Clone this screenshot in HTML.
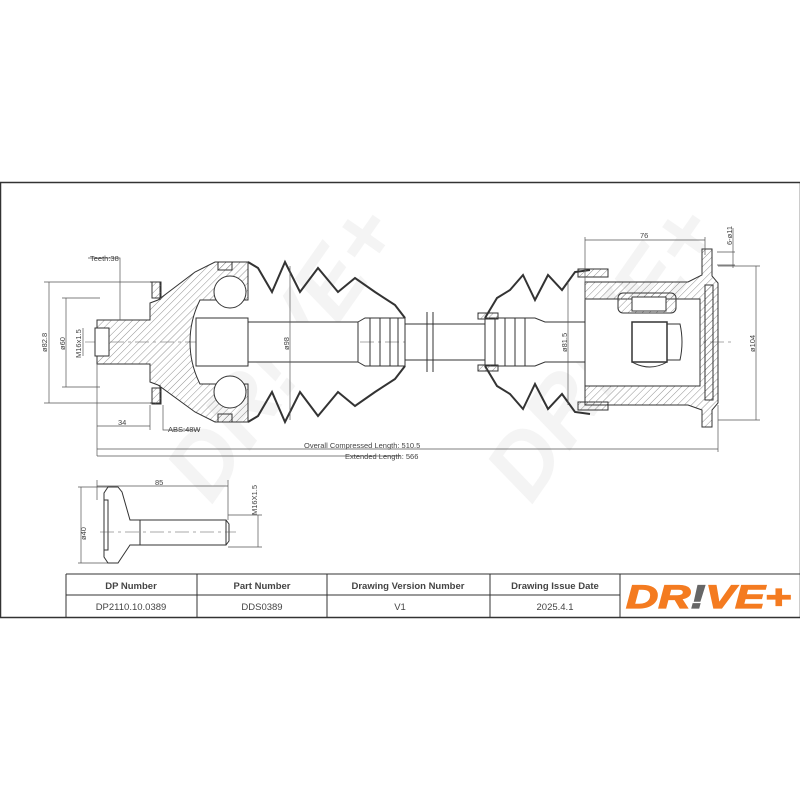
<!DOCTYPE html>
<html><head><meta charset="utf-8"><style>
html,body{margin:0;padding:0;background:#fff;width:800px;height:800px;overflow:hidden}
svg{display:block}
text{font-family:"Liberation Sans",sans-serif;fill:#444}
</style></head><body>
<svg width="800" height="800" viewBox="0 0 800 800" xmlns="http://www.w3.org/2000/svg">
<defs>
<pattern id="h" width="5" height="5" patternUnits="userSpaceOnUse" patternTransform="rotate(45)">
<line x1="0" y1="0" x2="0" y2="5" stroke="#777" stroke-width="0.8"/>
</pattern>
</defs>
<!-- watermark -->
<g opacity="0.05" font-weight="bold" font-style="italic" font-size="90">
<text x="120" y="470" transform="rotate(-55 200 400)" fill="#000">DR!VE+</text>
<text x="440" y="470" transform="rotate(-55 520 400)" fill="#000">DR!VE+</text>
</g>
<!-- frame -->
<rect x="0.5" y="182.5" width="800" height="435" fill="none" stroke="#333" stroke-width="1.5"/>
<!-- centerline -->
<line x1="85" y1="342" x2="735" y2="342" stroke="#555" stroke-width="0.6" stroke-dasharray="14,4,3,4"/>

<g stroke="#333" stroke-width="1" fill="none">
<!-- left stub & bell -->
<path d="M97 320 L150 320 L150 303 L158 300 L195 272 L215 262 L248 262 L248 300 L200 300 Q190 320 190 342 Q190 364 200 384 L248 384 L248 422 L215 422 L195 412 L158 385 L150 382 L150 364 L97 364 Z" fill="url(#h)"/>
<rect x="95" y="328" width="14" height="28" fill="#fff"/>
<path d="M150 282 L160 282 L160 300 M150 403 L160 403 L160 385"/>
<rect x="152" y="282" width="9" height="16" fill="url(#h)"/>
<rect x="152" y="388" width="9" height="16" fill="url(#h)"/>
<circle cx="230" cy="292" r="16" fill="#fff"/>
<circle cx="230" cy="392" r="16" fill="#fff"/>
<rect x="196" y="318" width="52" height="48" fill="#fff"/>
<rect x="218" y="262" width="14" height="8" fill="url(#h)"/>
<rect x="218" y="414" width="14" height="8" fill="url(#h)"/>
<!-- shaft -->
<rect x="248" y="322" width="110" height="40" fill="#fff"/>
<path d="M358 322 L365 318 L405 318 L405 366 L365 366 L358 362"/>
<path d="M370 318 V366 M380 318 V366 M390 318 V366 M398 318 V366"/>
<rect x="405" y="324" width="80" height="36" fill="#fff"/>
<path d="M427 312 V372 M433 312 V372"/>
<path d="M485 318 L535 318 L545 322 L630 322 L630 362 L545 362 L535 366 L485 366 Z" fill="#fff"/>
<path d="M495 318 V366 M505 318 V366 M515 318 V366 M525 318 V366"/>
<!-- left boot -->
<path d="M248 262 L258 268 L272 292 L285 262 L300 292 L318 268 L338 292 L355 278 L375 292 L395 305 L405 318" stroke-width="2"/>
<path d="M248 422 L258 416 L272 392 L285 422 L300 392 L318 416 L338 392 L355 406 L375 392 L395 379 L405 366" stroke-width="2"/>
<!-- right boot -->
<path d="M485 318 L497 298 L510 290 L523 275 L535 300 L548 275 L562 290 L575 272 L590 270" stroke-width="2"/>
<path d="M485 366 L497 386 L510 394 L523 409 L535 384 L548 409 L562 394 L575 412 L590 414" stroke-width="2"/>
<rect x="478" y="313" width="20" height="6" fill="url(#h)"/>
<rect x="478" y="365" width="20" height="6" fill="url(#h)"/>
<rect x="578" y="269" width="30" height="8" fill="url(#h)"/>
<rect x="578" y="402" width="30" height="8" fill="url(#h)"/>
<!-- right housing -->
<path d="M585 282 L688 282 L702 275 L702 249 L712 249 L712 276 L718 283 L718 403 L712 410 L712 427 L702 427 L702 410 L688 405 L585 405 L585 382 L605 382 L605 386 L700 386 L700 299 L605 299 L585 299 Z" fill="url(#h)"/>
<rect x="585" y="299" width="115" height="87" fill="#fff"/>
<rect x="705" y="285" width="8" height="115" fill="url(#h)"/>
<rect x="618" y="293" width="58" height="20" rx="5" fill="url(#h)"/>
<rect x="632" y="297" width="34" height="14" fill="#fff"/>
<rect x="632" y="322" width="35" height="40" fill="#fff" stroke-width="1.5"/>
<path d="M667 324 L680 324 Q684 342 680 360 L667 360"/>
<path d="M632 362 Q650 372 667 362"/>
</g>

<!-- dimensions -->
<g stroke="#555" stroke-width="0.7" fill="none">
<path d="M49 282 V403 M44 282 H150 M44 403 H150"/>
<path d="M66 298 V387 M62 298 H100 M62 387 H100"/>
<path d="M83 328 V356"/>
<path d="M88 258 H120 V320"/>
<path d="M97 364 V456 M150 405 V430 M97 426 H150"/>
<path d="M163 405 V430 H200"/>
<path d="M290 266 V420"/>
<path d="M97 449 H718 M718 405 V452 M97 456 H400"/>
<path d="M585 240 H705 M585 237 V300 M705 237 V255"/>
<path d="M717 252 H735 M717 265 H735 M733 228 V268"/>
<path d="M718 266 H760 M718 420 H760 M756 266 V420"/>
<path d="M568 282 V405"/>
<path d="M97 486 H228 M97 480 V500 M228 480 V520"/>
<path d="M81 487 V563 M78 487 H110 M78 563 H110"/>
<path d="M258 515 V547 M228 515 H262 M228 547 H262"/>
</g>
<g font-size="7.5">
<text x="90" y="261">Teeth:38</text>
<text x="118" y="425">34</text>
<text x="168" y="432">ABS:48W</text>
<text x="304" y="448">Overall  Compressed  Length: 510.5</text>
<text x="345" y="459">Extended  Length: 566</text>
<text x="640" y="238">76</text>
<text x="155" y="485">85</text>
<text transform="translate(47 352) rotate(-90)">ø82.8</text>
<text transform="translate(65 350) rotate(-90)">ø60</text>
<text transform="translate(81 358) rotate(-90)">M16x1.5</text>
<text transform="translate(289 350) rotate(-90)">ø98</text>
<text transform="translate(567 352) rotate(-90)">ø81.5</text>
<text transform="translate(755 352) rotate(-90)">ø104</text>
<text transform="translate(732 245) rotate(-90)">6-ø11</text>
<text transform="translate(86 540) rotate(-90)">ø40</text>
<text transform="translate(257 515) rotate(-90)">M16X1.5</text>
</g>
<!-- bolt -->
<g stroke="#333" stroke-width="1" fill="none">
<path d="M108 487 L118 487 L122 492 L130 520 L140 520 L140 545 L130 545 L122 557 L118 563 L108 563 L104 557 L104 493 Z" fill="#fff"/>
<path d="M104 500 H108 V550 H104"/>
<rect x="140" y="520" width="86" height="25" fill="#fff"/>
<path d="M226 520 L229 524 L229 541 L226 545"/>
</g>
<line x1="100" y1="532" x2="236" y2="532" stroke="#555" stroke-width="0.6" stroke-dasharray="14,4,3,4"/>
<!-- table -->
<g stroke="#333" stroke-width="1" fill="none">
<path d="M66 574 H800 M66 595 H620 M66 574 V617 M197 574 V617 M327 574 V617 M490 574 V617 M620 574 V617"/>
</g>
<g font-size="9.5" text-anchor="middle">
<text x="131" y="589" font-weight="bold" fill="#111">DP Number</text>
<text x="262" y="589" font-weight="bold" fill="#111">Part Number</text>
<text x="408" y="589" font-weight="bold" fill="#111">Drawing Version Number</text>
<text x="555" y="589" font-weight="bold" fill="#111">Drawing Issue Date</text>
<text x="131" y="610" fill="#222">DP2110.10.0389</text>
<text x="262" y="610" fill="#222">DDS0389</text>
<text x="400" y="610" fill="#222">V1</text>
<text x="555" y="610" fill="#222">2025.4.1</text>
</g>
<text x="626" y="608" font-size="32" font-weight="bold" font-style="italic" style="fill:#f47b20;stroke:#f47b20;stroke-width:1.2" textLength="165" lengthAdjust="spacingAndGlyphs">DR<tspan style="fill:#666;stroke:#666">!</tspan>VE+</text>
</svg>
</body></html>
